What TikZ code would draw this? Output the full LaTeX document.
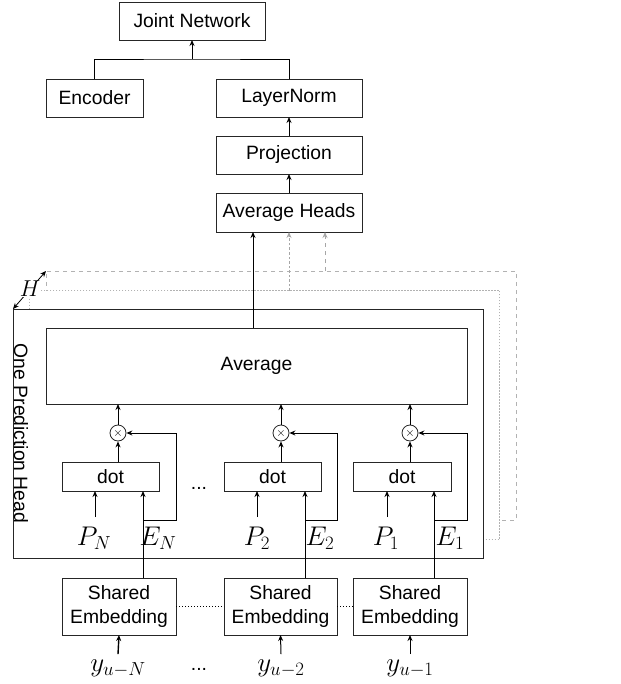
\RequirePackage{fix-cm}
\documentclass[tikz,border=0pt]{standalone}
\usepackage[no-math]{fontspec}
\setmainfont{Liberation Sans}
\usetikzlibrary{arrows.meta,calc}
\begin{document}
\begin{tikzpicture}[x=1pt,y=-1pt,
  font=\fontsize{19.3}{24}\selectfont,
  box/.style={draw=black!85, line width=0.9pt, inner sep=0pt, outer sep=0pt, fill=white},
  topbox/.style={box, minimum width=146pt, minimum height=38pt},
  dotbox/.style={box, minimum width=97pt, minimum height=29pt},
  sebox/.style={box, minimum width=114pt, minimum height=57pt, align=center},
  mult/.style={circle, draw=black!85, line width=0.8pt, minimum size=16pt, inner sep=0pt, fill=white, font=\fontsize{12}{12}\selectfont},
  arr/.style={line width=1pt, -{Stealth[length=6pt,width=5pt]}},
  garr/.style={draw=gray!70, line width=0.9pt, -{Stealth[length=6pt,width=5pt,fill=gray!70]}},
  mlbl/.style={font=\fontsize{27}{32}\selectfont, inner sep=0pt, anchor=base},
  stackbox/.style={inner sep=0pt, outer sep=0pt, minimum width=470pt, minimum height=249pt},
]
\useasboundingbox (0,0) rectangle (620,684);

% top part
\node[topbox] (joint) at (192,21) {Joint Network};
\node[topbox, minimum width=97pt] (enc) at (94.5,98) {Encoder};
\node[topbox] (ln) at (289,98) {LayerNorm};
\node[topbox] (proj) at (289,155) {Projection};
\node[topbox, minimum height=39pt] (avgh) at (289,212.5) {Average Heads};
\coordinate (jc) at (192,59);
\draw[line width=0.9pt] (enc.north) |- (jc) -| (ln.north);
\draw[arr] (jc) -- (joint.south);
\draw[arr] (proj.north) -- (ln.south);
\draw[arr] (avgh.north) -- (proj.south);

% stacked heads
\node[stackbox, draw=gray!60, line width=0.8pt, dash pattern=on 4pt off 4pt] (h2) at (281,395.5) {};
\node[stackbox, draw=gray!60, line width=0.8pt, dash pattern=on 1.5pt off 1.5pt, fill=white] (h1) at (264.5,415) {};
\node[stackbox, draw=black!85, line width=0.9pt, fill=white] (outer) at (248,433.5) {};
\node[rotate=-90, anchor=base, inner sep=0pt] (ophl) at (14,433.5) {One Prediction Head};

\draw[garr, dash pattern=on 4pt off 4pt] ([xshift=44pt]h2.north) -- ([xshift=36pt]avgh.south);
\draw[garr, dash pattern=on 2.5pt off 2pt] ([xshift=24.5pt]h1.north) -- (avgh.south);

\draw[line width=0.8pt, {Stealth[length=6pt,width=5pt]}-{Stealth[length=6pt,width=5pt]}] (outer.north west) -- (h2.north west);
\node[fill=white, inner sep=0pt, font=\fontsize{23}{26}\selectfont] (hl) at (30,289) {$H$};

% average
\node[box, minimum width=421pt, minimum height=76pt] (avg) at (256.5,366) {Average};
\draw[arr] ([xshift=-3.5pt]avg.north) -- ([xshift=-36pt]avgh.south);

% dot boxes
\node[dotbox] (dN) at (110.5,476.5) {dot};
\node[dotbox] (d2) at (272.5,476.5) {dot};
\node[dotbox, minimum width=98pt] (d1) at (402,476.5) {dot};
\node[anchor=base, inner sep=0pt] (dotsA) at (199,489) {...};

\node[mult] (cN) at (118,433) {$\times$};
\node[mult] (c2) at (281,433) {$\times$};
\node[mult] (c1) at (410,433) {$\times$};

\foreach \c/\d/\dx in {cN/dN/7.5, c2/d2/8.5, c1/d1/8}{
  \draw[arr] ([xshift=\dx pt]\d.north) -- (\c.south);
  \draw[arr] (\c.north) -- (\c.north |- avg.south);
}

% shared embeddings
\node[sebox] (sN) at (119,606.5) {Shared\\Embedding};
\node[sebox, minimum width=113pt] (s2) at (280.5,606.5) {Shared\\Embedding};
\node[sebox] (s1) at (410,606.5) {Shared\\Embedding};
\draw[line width=1pt, dotted] (sN.east) -- (s2.west);
\draw[line width=1pt, dotted] (s2.east) -- (s1.west);

% P and E labels
\node[mlbl] (pN) at (94,545) {$P_N$};
\node[mlbl] (p2) at (257,545) {$P_2$};
\node[mlbl] (p1) at (386,545) {$P_1$};
\node[mlbl] (eN) at (158,545) {$E_N$};
\node[mlbl] (e2) at (320,545) {$E_2$};
\node[mlbl] (e1) at (450,545) {$E_1$};
\foreach \p/\d/\px in {pN/dN/95, p2/d2/257, p1/d1/387}{
  \draw[arr] (\px,517) -- (\px,491);
}

% E lines
\coordinate (bN) at (143,520);
\coordinate (b2) at (305,520);
\coordinate (b1) at (434,520);
\coordinate (fN) at (176,520);
\coordinate (f2) at (337,520);
\coordinate (f1) at (467,520);
\draw[arr] (sN.north -| bN) -- (dN.south -| bN);
\draw[arr] (s2.north -| b2) -- (d2.south -| b2);
\draw[arr] (s1.north -| b1) -- (d1.south -| b1);
\draw[arr] (bN) -- (fN) |- (cN);
\draw[arr] (b2) -- (f2) |- (c2);
\draw[arr] (b1) -- (f1) |- (c1);

% y labels
\node[mlbl] (yN) at (118,671) {$y_{u-N}$};
\node[mlbl] (y2) at (281,671) {$y_{u-2}$};
\node[mlbl] (y1) at (410,671) {$y_{u-1}$};
\node[anchor=base, inner sep=0pt] (dotsB) at (199,670) {...};
\draw[arr, line width=1.4pt] ([yshift=5pt]yN.north) -- (sN.south);
\draw[arr] ([yshift=5pt]y2.north) -- (s2.south);
\draw[arr] ([yshift=5pt]y1.north) -- (s1.south);
\end{tikzpicture}
\end{document}
